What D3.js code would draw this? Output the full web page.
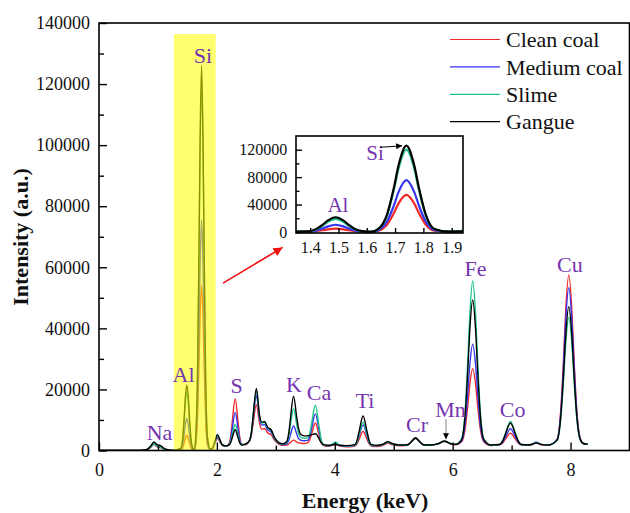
<!DOCTYPE html>
<html><head><meta charset="utf-8">
<script src="https://cdn.jsdelivr.net/npm/d3@7"></script>
<style>
body{margin:0;background:#fff}
svg{display:block}
</style>
</head><body>
<svg id="c" width="630" height="513"></svg>
<script>
// ---------------- DATA ----------------
const energy = [
  0, 0.60, 0.80, 0.88, 0.93, 0.98, 1.05, 1.12, 1.25,
  1.39, 1.4225, 1.445, 1.463, 1.49, 1.517, 1.535, 1.5575, 1.59, 1.615,
  1.641, 1.6725, 1.695, 1.713, 1.74, 1.767, 1.785, 1.8075, 1.839, 1.89,
  1.93, 1.965, 2.01, 2.055, 2.09, 2.15,
  2.20, 2.235, 2.26, 2.31, 2.36, 2.385, 2.42, 2.48,
  2.549, 2.5875, 2.615, 2.67, 2.725, 2.76, 2.81, 2.86, 2.92, 2.98, 3.05, 3.12,
  3.179, 3.2175, 3.245, 3.30, 3.355, 3.3825, 3.421, 3.48,
  3.538, 3.58, 3.61, 3.67, 3.73, 3.76, 3.802, 3.88, 3.94, 4.01, 4.08, 4.20,
  4.337, 4.3825, 4.415, 4.48, 4.545, 4.5775, 4.623, 4.72, 4.83, 4.90, 4.97, 5.10,
  5.216, 5.265, 5.30, 5.37, 5.44, 5.475, 5.524, 5.65, 5.76, 5.86, 5.96, 6.05,
  6.153, 6.2125, 6.255, 6.289, 6.34, 6.391, 6.425, 6.4675, 6.527, 6.65,
  6.793, 6.8525, 6.895, 6.98, 7.065, 7.1075, 7.167, 7.28, 7.34, 7.42, 7.50, 7.62,
  7.772, 7.835, 7.88, 7.916, 7.97, 8.024, 8.06, 8.105, 8.168, 8.22, 8.29
];
const cleanCoal = [
  0,0,200,1100,2000,1300,900,300,0,
  150,1050,2500,3900,5000,3900,2500,1050,150,50,
  1900,11300,27000,42100,54000,42100,27000,11300,1900,300,
  700,2300,4000,2700,1700,1400,
  2040,4760,9250,17000,9250,4760,2100,1900,
  2940,5125,8750,15000,8750,7000,7200,5800,5200,3300,2100,1700,
  1760,2060,2550,3400,2800,2500,2400,2300,
  2500,3700,5650,9000,5300,3000,1700,1400,1600,2000,1500,1200,
  1470,2330,3750,6200,3750,2330,1470,1300,1800,2400,1900,1500,
  1790,2250,3000,4300,3000,2250,1790,1700,2200,2900,2200,1900,
  2870,7210,14400,21340,26800,21340,14400,7210,2870,1600,
  1840,2540,3700,5700,3700,2540,1840,1700,1900,2400,1900,1700,
  3750,13500,29650,45250,57500,45250,29650,13500,3750,2200,2000
];
const mediumCoal = [
  0,0,200,1200,2200,1500,1000,300,0,
  350,2200,5250,8200,10500,8200,5250,2200,350,80,
  2650,15900,37750,58900,75500,58900,37750,15900,2650,300,
  800,2600,4500,3000,1800,1500,
  1885,3810,7000,12500,7000,3810,1950,2000,
  3040,5755,10250,18000,10250,8300,8500,6800,6000,3700,2300,1900,
  2100,3200,4950,8000,5400,4000,3400,3200,
  3300,4900,7500,12000,6900,3800,1900,1500,1700,2300,1600,1400,
  1650,2870,4900,8400,4900,2870,1650,1500,2000,2700,2100,1700,
  1790,2220,2950,4200,2950,2220,1790,1800,2300,3000,2300,2000,
  3150,8890,18400,27580,34800,27580,18400,8890,3150,1700,
  1890,2830,4400,7100,4400,2830,1890,1800,2000,2700,2000,1800,
  3600,12620,27550,41970,53300,41970,27550,12620,3600,2200,2000
];
const slime = [
  0,0,200,1200,2300,1500,1000,300,0,
  650,4000,9500,14800,19000,14800,9500,4000,650,150,
  4200,25200,60000,93600,120000,93600,60000,25200,4200,400,
  800,2700,4700,3100,1800,1500,
  1745,2970,5000,8500,5000,2970,1800,2000,
  3100,6070,11000,19500,11000,9000,9200,7400,6600,4000,2500,2100,
  2500,4500,7900,13700,8400,5800,4300,4000,
  4200,6000,9300,14800,8300,4500,2100,1600,1900,2800,1800,1500,
  1770,3140,5400,9300,5400,3140,1770,1600,2100,2800,2200,1700,
  1780,2180,2850,4000,2850,2180,1780,1800,2300,3000,2300,2000,
  3870,13240,28750,43730,55500,43730,28750,13240,3870,1700,
  1970,3340,5600,9500,5600,3340,1970,1800,2000,2500,2000,1800,
  3260,10580,22700,34400,43600,34400,22700,10580,3260,2200,2000
];
const gangue = [
  0,0,300,1500,2800,2000,1500,500,0,
  750,4500,10750,16800,21500,16800,10750,4500,750,200,
  4400,26500,63000,98300,126000,98300,63000,26500,4400,400,
  900,3000,5200,3400,1900,1500,
  1685,2610,4150,6800,4150,2610,1750,2100,
  3120,6240,11400,20300,11400,9300,9500,7600,6800,4200,2600,2200,
  2750,5500,10000,17800,10800,7500,5300,4800,
  4800,4950,5200,5500,4000,2800,2000,1700,1800,2000,1700,1600,
  1940,3640,6450,11300,6450,3640,1940,1700,2200,2900,2300,1800,
  1780,2180,2850,4000,2850,2180,1780,1800,2300,3100,2300,2000,
  3660,11930,25650,38890,49300,38890,25650,11930,3660,1800,
  1960,3230,5350,9000,5350,3230,1960,1800,2000,2500,2000,1800,
  3390,11310,24450,37130,47100,37130,24450,11310,3390,2300,2100
];

const seriesNames = ["Clean coal", "Medium coal", "Slime", "Gangue"];
const seriesColors = ["#f02a2a", "#3535f0", "#1fc487", "#000000"];

const xTicksMajor = [0, 2, 4, 6, 8];
const xTicksMinor = [1, 3, 5, 7];
const yTicksMajor = [0, 20000, 40000, 60000, 80000, 100000, 120000, 140000];
const yTicksMinor = [10000, 30000, 50000, 70000, 90000, 110000, 130000];

const insetXTicks = [1.4, 1.5, 1.6, 1.7, 1.8, 1.9];
const insetYTicksMajor = [0, 40000, 80000, 120000];
const insetYTicksMinor = [20000, 60000, 100000];

// element labels: name, energy, intensity of text baseline
const elementNames = ["Na", "Al", "Si", "S", "K", "Ca", "Ti", "Cr", "Mn", "Fe", "Co", "Cu"];
const elementEnergy = [1.026, 1.434, 1.765, 2.333, 3.308, 3.733, 4.513, 5.395, 5.964, 6.388, 7.016, 7.99];
const elementLevel = [3440, 22500, 126900, 18930, 19260, 16540, 13820, 5960, 11070, 57150, 11070, 58550];

const insetLabelNames = ["Al", "Si"];
const insetLabelEnergy = [1.498, 1.629];
const insetLabelLevel = [29570, 105000];

// highlighted window (keV, counts)
const highlightEnergy = [1.27, 1.98];
const highlightTop = 136400;

// ---------------- DRAWING ----------------
const FONT = "Liberation Serif";
const svg = d3.select("#c").style("font-family", FONT);
const L = 99, R = 629.5, T = 23, B = 450.5;
const x = d3.scaleLinear().domain([0, 9]).range([L, R]);
const y = d3.scaleLinear().domain([0, 140000]).range([B, T]);

const purple = "#7536b0";
const defs = svg.append("defs");
defs.append("clipPath").attr("id", "clipMain").append("rect")
  .attr("x", L).attr("y", T).attr("width", R - L).attr("height", B - T);

function marker(id, color, w, h) {
  defs.append("marker").attr("id", id)
    .attr("viewBox", "0 0 10 10").attr("refX", 10).attr("refY", 5)
    .attr("markerWidth", w).attr("markerHeight", h)
    .attr("markerUnits", "userSpaceOnUse").attr("orient", "auto")
    .append("path").attr("d", "M0,0 L10,5 L0,10 z").attr("fill", color);
}
marker("arrRed", "#f01010", 12, 9);
marker("arrBlack", "#000", 8, 6);

function addText(sel, x0, y0, str, size, opts = {}) {
  const t = sel.append("text").attr("x", x0).attr("y", y0)
    .style("font-family", FONT).style("font-size", size + "px")
    .attr("text-anchor", opts.anchor || "start")
    .attr("fill", opts.fill || "#111").text(str);
  if (opts.bold) t.style("font-weight", "bold");
  if (opts.transform) t.attr("transform", opts.transform);
  return t;
}

const seriesValues = [cleanCoal, mediumCoal, slime, gangue];
const series = seriesValues.map(vals => energy.map((e, i) => [e, vals[i]]));

const mainLine = d3.line().x(d => x(d[0])).y(d => y(d[1])).curve(d3.curveMonotoneX);
const gMain = svg.append("g").attr("clip-path", "url(#clipMain)");
series.forEach((s, i) => {
  gMain.append("path").datum(s).attr("d", mainLine)
    .attr("fill", "none").attr("stroke", seriesColors[i])
    .attr("stroke-width", 1.4).attr("stroke-linejoin", "round");
});

// yellow highlight over the lines
svg.append("rect")
  .attr("x", x(highlightEnergy[0])).attr("y", y(highlightTop))
  .attr("width", x(highlightEnergy[1]) - x(highlightEnergy[0]))
  .attr("height", y(0) - y(highlightTop))
  .attr("fill", "#ffff00").attr("opacity", 0.56);

// axes
function styleAxis(g, size) {
  g.attr("font-family", null).attr("font-size", null);
  g.select(".domain").remove();
  g.selectAll(".tick line").attr("stroke", "#000").attr("stroke-width", 1.4);
  g.selectAll(".tick text").style("font-size", size + "px").attr("fill", "#111")
    .style("font-family", FONT);
}
svg.append("g").attr("transform", `translate(0,${B})`)
  .call(d3.axisBottom(x).tickValues(xTicksMajor).tickSize(-8).tickPadding(12.5).tickFormat(d3.format("d")))
  .call(g => styleAxis(g, 18));
svg.append("g").attr("transform", `translate(0,${B})`)
  .call(d3.axisBottom(x).tickValues(xTicksMinor).tickSize(-5).tickFormat(""))
  .call(g => styleAxis(g, 18));
svg.append("g").attr("transform", `translate(${L},0)`)
  .call(d3.axisLeft(y).tickValues(yTicksMajor).tickSize(-8).tickPadding(9).tickFormat(d3.format("d")))
  .call(g => styleAxis(g, 18));
svg.append("g").attr("transform", `translate(${L},0)`)
  .call(d3.axisLeft(y).tickValues(yTicksMinor).tickSize(-5).tickFormat(""))
  .call(g => styleAxis(g, 18));

svg.append("rect").attr("x", L).attr("y", T).attr("width", R - L).attr("height", B - T)
  .attr("fill", "none").attr("stroke", "#000").attr("stroke-width", 1.6);

// axis titles
addText(svg, 365, 508, "Energy (keV)", 22, { anchor: "middle", bold: true });
addText(svg, 0, 0, "Intensity (a.u.)", 22, { anchor: "middle", bold: true, transform: "translate(28,237) rotate(-90)" });

// element labels
elementNames.forEach((n, i) => {
  addText(svg, x(elementEnergy[i]), y(elementLevel[i]), n, 22, { anchor: "middle", fill: purple });
});

// Mn arrow
const mnArrowE = 5.887;
svg.append("line").attr("x1", x(mnArrowE)).attr("x2", x(mnArrowE))
  .attr("y1", y(10300)).attr("y2", y(5600)).attr("stroke", "#999").attr("stroke-width", 1.2);
svg.append("line").attr("x1", x(mnArrowE)).attr("x2", x(mnArrowE))
  .attr("y1", y(5700)).attr("y2", y(3700)).attr("stroke", "#000").attr("stroke-width", 0.5)
  .attr("marker-end", "url(#arrBlack)");

// red arrow towards inset
svg.append("line").attr("x1", x(2.104)).attr("y1", y(54830)).attr("x2", x(3.115)).attr("y2", y(66500))
  .attr("stroke", "#f01010").attr("stroke-width", 1.6).attr("marker-end", "url(#arrRed)");

// legend
const legX = 450, legY = 39.5, legDy = 27.4;
seriesNames.forEach((n, i) => {
  const yy = legY + i * legDy;
  svg.append("line").attr("x1", legX).attr("x2", legX + 50).attr("y1", yy).attr("y2", yy)
    .attr("stroke", seriesColors[i]).attr("stroke-width", 1.2);
  addText(svg, legX + 56, yy + 7.6, n, 22);
});

// ---------------- INSET ----------------
const iL = 296, iR = 463, iT = 136, iB = 233;
const xi = d3.scaleLinear().domain([1.35, 1.94]).range([iL, iR]);
const yi = d3.scaleLinear().domain([-1500, 140000]).range([iB, iT]);
defs.append("clipPath").attr("id", "clipInset").append("rect")
  .attr("x", iL).attr("y", iT).attr("width", iR - iL).attr("height", iB - iT);
svg.append("rect").attr("x", iL).attr("y", iT).attr("width", iR - iL).attr("height", iB - iT).attr("fill", "#fff");
const insetLine = d3.line().x(d => xi(d[0])).y(d => yi(d[1])).curve(d3.curveMonotoneX);
const gIn = svg.append("g").attr("clip-path", "url(#clipInset)");
series.forEach((s, i) => {
  gIn.append("path").datum(s.filter(d => d[0] >= 1.2 && d[0] <= 2.1)).attr("d", insetLine)
    .attr("fill", "none").attr("stroke", seriesColors[i]).attr("stroke-width", 2.2)
    .attr("stroke-linejoin", "round");
});
svg.append("g").attr("transform", `translate(0,${iB})`)
  .call(d3.axisBottom(xi).tickValues(insetXTicks).tickSize(-5).tickPadding(8.9).tickFormat(d3.format(".1f")))
  .call(g => styleAxis(g, 16));
svg.append("g").attr("transform", `translate(${iL},0)`)
  .call(d3.axisLeft(yi).tickValues(insetYTicksMajor).tickSize(-6).tickPadding(8.7).tickFormat(d3.format("d")))
  .call(g => styleAxis(g, 16));
svg.append("g").attr("transform", `translate(${iL},0)`)
  .call(d3.axisLeft(yi).tickValues(insetYTicksMinor).tickSize(-3.5).tickFormat(""))
  .call(g => styleAxis(g, 16));
svg.append("rect").attr("x", iL).attr("y", iT).attr("width", iR - iL).attr("height", iB - iT)
  .attr("fill", "none").attr("stroke", "#000").attr("stroke-width", 1.6);

insetLabelNames.forEach((n, i) => {
  addText(svg, xi(insetLabelEnergy[i]), yi(insetLabelLevel[i]), n, 21, { anchor: "middle", fill: purple });
});
svg.append("line").attr("x1", xi(1.647)).attr("y1", yi(123500)).attr("x2", xi(1.725)).attr("y2", yi(125600))
  .attr("stroke", "#000").attr("stroke-width", 1).attr("marker-end", "url(#arrBlack)");
</script>
</body></html>
